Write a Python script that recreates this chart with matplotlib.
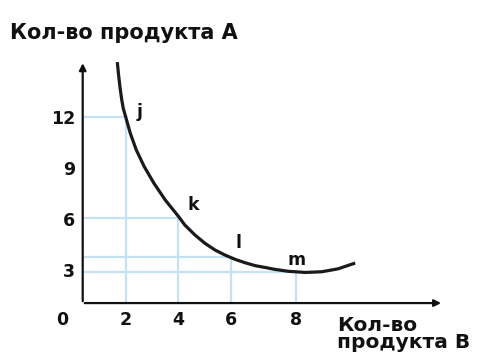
import numpy as np
import matplotlib.pyplot as plt

# indifference curve (B = product B, A = product A)
curve_b = [1.665, 1.715, 1.773, 1.838, 1.892, 1.985, 2.165, 2.396, 2.704, 3.077, 3.512,
           4.026, 4.26, 4.64, 5.02, 5.40, 5.77, 6.12, 6.43, 6.74, 7.05, 7.35,
           7.75, 8.28, 8.79, 9.29, 9.82]
curve_a = [15.20, 14.44, 13.68, 12.98, 12.51, 12.01, 11.04, 10.06, 9.08, 8.11, 7.13,
           6.16, 5.67, 5.09, 4.60, 4.21, 3.92, 3.67, 3.47, 3.30, 3.19, 3.08,
           2.97, 2.90, 2.94, 3.11, 3.45]

# marked points
pt_names = ['j', 'k', 'l', 'm']
pt_b = [2, 4, 6, 8]
pt_a = [12, 6.1, 3.8, 2.9]

xticks = [2, 4, 6, 8]
yticks = [3, 6, 9, 12]

ylabel = 'Кол-во продукта А'
xlabel = 'Кол-во\nпродукта В'

# the drawing's B axis is not evenly spaced, so use a piecewise-linear scale
kb = [-3, 2, 4, 6, 8, 15]
kp = [-4, 126, 178, 231, 296, 523.5]


def fwd(v):
    return np.interp(v, kb, kp)


def inv(v):
    return np.interp(v, kp, kb)


fig = plt.figure(figsize=(4.79, 3.59), dpi=100)
ax = fig.add_axes([0, 0, 1, 1])
ax.set_xscale('function', functions=(fwd, inv))
ax.set_xlim(-2.846, 13.63)
ax.set_ylim(-2.16, 18.83)
ax.axis('off')

x0, y0 = 0.335, 1.11   # where the axes cross
grid_c = '#c4e2f2'
ink = '#111111'
font = dict(family='DejaVu Sans', fontweight='bold', color=ink)

# helper lines from the axes to each point
for b, a in zip(pt_b, pt_a):
    ax.plot([x0, b], [a, a], color=grid_c, lw=1.6, zorder=1)
    ax.plot([b, b], [y0, a], color=grid_c, lw=1.6, zorder=1)

# axes with arrows
ax.annotate('', xy=(x0, 15.3), xytext=(x0, y0 - 0.05),
            arrowprops=dict(arrowstyle='-|>', color=ink, lw=1.6, mutation_scale=10))
ax.annotate('', xy=(12.55, y0), xytext=(x0 - 0.03, y0),
            arrowprops=dict(arrowstyle='-|>', color=ink, lw=1.6, mutation_scale=10))

ax.plot(curve_b, curve_a, color='#1a1a1a', lw=2.3, solid_capstyle='butt',
        solid_joinstyle='round', zorder=3)

label_off = [(0.54, 0.3), (0.57, 0.74), (0.22, 0.82), (0.03, 0.73)]
for n, b, a, (db, da) in zip(pt_names, pt_b, pt_a, label_off):
    ax.text(b + db, a + da, n, fontsize=12.5, ha='center', va='center', **font)

for t in xticks:
    ax.text(t, 0.12, str(t), fontsize=12.5, ha='center', va='center', **font)
for t in yticks:
    ax.text(0.05, t - 0.1, str(t), fontsize=12.5, ha='right', va='center', **font)
ax.text(-0.46, 0.12, '0', fontsize=12.5, ha='center', va='center', **font)

ax.text(-2.46, 16.9, ylabel, fontsize=15, ha='left', va='center', **font)
ax.text(9.26, -0.7, xlabel, fontsize=14.5, ha='left', va='center', linespacing=0.85, **font)

fig.savefig('out.png', dpi=100)
